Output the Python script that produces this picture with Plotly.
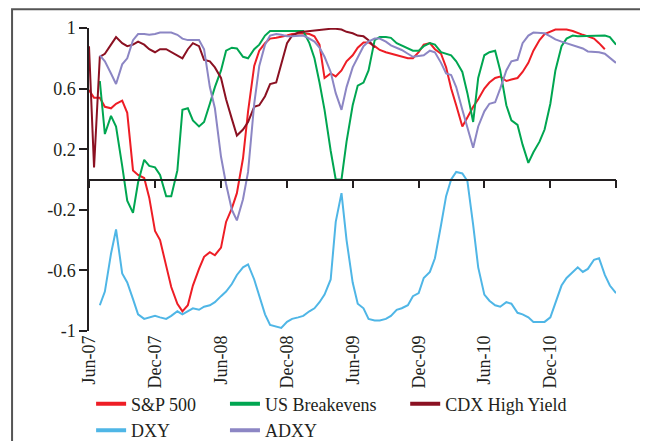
import plotly.graph_objects as go
import pandas as pd

# semi-monthly observations, Jun-07 .. Jun-11
dates = pd.date_range("2007-06-01", periods=97, freq="SMS")

sp500 = [0.59, 0.54, 0.54, 0.48, 0.47, 0.50, 0.52, 0.44, 0.06, 0.03,
         0.01, -0.12, -0.34, -0.40, -0.57, -0.71, -0.82, -0.87, -0.83, -0.70,
         -0.59, -0.51, -0.48, -0.50, -0.45, -0.28, -0.19, -0.09, 0.14, 0.45,
         0.75, 0.85, 0.90, 0.93, 0.935, 0.94, 0.95, 0.96, 0.965, 0.965,
         0.96, 0.945, 0.89, 0.67, 0.70, 0.68, 0.72, 0.78, 0.82, 0.87,
         0.905, 0.905, 0.88, 0.855, 0.84, 0.83, 0.82, 0.81, 0.80, 0.80,
         0.84, 0.89, 0.90, 0.86, 0.83, 0.74, 0.60, 0.49, 0.35, 0.41,
         0.48, 0.53, 0.60, 0.64, 0.67, 0.68, 0.65, 0.66, 0.67, 0.71,
         0.77, 0.85, 0.92, 0.96, 0.975, 0.99, 0.99, 0.99, 0.98, 0.965,
         0.955, 0.945, 0.93, 0.90, 0.86, None, None]

breakevens = [None, None, 0.65, 0.30, 0.42, 0.35, 0.09, -0.14, -0.22, -0.02,
              0.13, 0.09, 0.08, 0.03, -0.11, -0.11, 0.06, 0.46, 0.47, 0.39,
              0.35, 0.38, 0.50, 0.61, 0.72, 0.85, 0.87, 0.865, 0.81, 0.80,
              0.86, 0.89, 0.95, 0.98, 0.98, 0.98, 0.98, 0.98, 0.98, 0.98,
              0.90, 0.80, 0.64, 0.46, 0.19, 0.0, 0.0, 0.25, 0.49, 0.62,
              0.64, 0.72, 0.92, 0.94, 0.94, 0.935, 0.90, 0.885, 0.87, 0.85,
              0.85, 0.88, 0.90, 0.89, 0.84, 0.83, 0.82, 0.78, 0.71, 0.57,
              0.38, 0.67, 0.82, 0.84, 0.85, 0.72, 0.49, 0.39, 0.36, 0.23,
              0.11, 0.18, 0.25, 0.33, 0.50, 0.72, 0.88, 0.93, 0.95, 0.945,
              0.945, 0.945, 0.945, 0.95, 0.95, 0.94, 0.89]

cdx_hy = [0.88, 0.08, 0.81, 0.83, 0.89, 0.94, 0.90, 0.88, 0.89, 0.91,
          0.89, 0.86, 0.84, 0.86, 0.86, 0.84, 0.82, 0.80, 0.86, 0.90,
          0.88, 0.79, 0.78, 0.74, 0.67, 0.53, 0.40, 0.29, 0.33, 0.38,
          0.48, 0.49, 0.55, 0.63, 0.64, 0.77, 0.90, 0.95, 0.97, 0.975,
          0.98, 0.985, 0.99, 0.99, 0.995, 0.995, 0.99, 0.975, 0.965, 0.95,
          0.945, 0.92, 0.87] + [None] * 44

dxy = [None, None, -0.83, -0.74, -0.49, -0.33, -0.62, -0.68, -0.79, -0.89,
       -0.92, -0.91, -0.90, -0.91, -0.92, -0.90, -0.87, -0.89, -0.87, -0.85,
       -0.86, -0.84, -0.83, -0.81, -0.77, -0.74, -0.69, -0.63, -0.58, -0.56,
       -0.66, -0.77, -0.89, -0.96, -0.97, -0.98, -0.94, -0.92, -0.91, -0.90,
       -0.87, -0.85, -0.81, -0.76, -0.66, -0.28, -0.09, -0.40, -0.68, -0.82,
       -0.85, -0.92, -0.93, -0.93, -0.92, -0.90, -0.86, -0.85, -0.83, -0.77,
       -0.75, -0.65, -0.61, -0.52, -0.30, -0.11, 0.0, 0.05, 0.04, -0.01,
       -0.30, -0.58, -0.76, -0.80, -0.83, -0.84, -0.81, -0.82, -0.88, -0.89,
       -0.91, -0.94, -0.94, -0.94, -0.91, -0.81, -0.70, -0.65, -0.61, -0.58,
       -0.61, -0.59, -0.53, -0.52, -0.63, -0.70, -0.75]

adxy = [None, None, 0.82, 0.78, 0.70, 0.63, 0.76, 0.80, 0.92, 0.96,
        0.96, 0.955, 0.96, 0.97, 0.97, 0.97, 0.955, 0.93, 0.92, 0.92,
        0.92, 0.86, 0.61, 0.47, 0.15, -0.03, -0.20, -0.27, -0.13, 0.05,
        0.50, 0.75, 0.89, 0.95, 0.96, 0.955, 0.945, 0.945, 0.95, 0.95,
        0.93, 0.91, 0.87, 0.81, 0.71, 0.57, 0.46, 0.61, 0.74, 0.81,
        0.88, 0.91, 0.93, 0.93, 0.91, 0.885, 0.87, 0.855, 0.83, 0.81,
        0.815, 0.82, 0.85, 0.84, 0.77, 0.70, 0.69, 0.61, 0.46, 0.35,
        0.21, 0.35, 0.45, 0.50, 0.51, 0.60, 0.72, 0.78, 0.79, 0.90,
        0.95, 0.97, 0.97, 0.965, 0.945, 0.925, 0.91, 0.90, 0.89, 0.875,
        0.865, 0.845, 0.84, 0.84, 0.83, 0.80, 0.77]

tick_dates = ["2007-06-01", "2007-12-01", "2008-06-01", "2008-12-01", "2009-06-01",
              "2009-12-01", "2010-06-01", "2010-12-01", "2011-06-01"]
tick_labels = ["Jun-07", "Dec-07", "Jun-08", "Dec-08", "Jun-09",
               "Dec-09", "Jun-10", "Dec-10", ""]
y_ticks = [1, 0.6, 0.2, -0.2, -0.6, -1]
y_labels = ["1", "0.6", "0.2", "-0.2", "-0.6", "-1"]

FONT = "Liberation Serif"
INK = "#231f20"
FS = 18

series = [
    ("S&P 500", sp500, "#ee1d25", "legend", "x"),
    ("US Breakevens", breakevens, "#00a651", "legend2", "x"),
    ("CDX High Yield", cdx_hy, "#8b1122", "legend3", "x"),
    ("DXY", dxy, "#4fb6e6", "legend", "x2"),
    ("ADXY", adxy, "#8c86c4", "legend2", "x"),
]

fig = go.Figure()

for name, vals, color, leg, xa in series:
    fig.add_trace(go.Scatter(
        x=dates, y=vals, name=name, mode="lines", xaxis=xa,
        line=dict(color=color, width=2), showlegend=False,
        connectgaps=False,
    ))

# legend swatches (thicker than the data lines)
for name, vals, color, leg, xa in series:
    fig.add_trace(go.Scatter(
        x=[None], y=[None], name=name, mode="lines",
        line=dict(color=color, width=4), legend=leg,
    ))

leg_common = dict(orientation="v", yanchor="top", y=-0.18, xanchor="left",
                  font=dict(family=FONT, size=FS, color=INK),
                  bgcolor="rgba(0,0,0,0)", traceorder="normal", tracegroupgap=0)

# page body adds an 8px margin, so the figure is 8px smaller each way
fig.update_layout(
    width=640, height=433,
    paper_bgcolor="white", plot_bgcolor="white",
    margin=dict(l=81, r=32, t=20, b=110, autoexpand=False),
    font=dict(family=FONT, size=FS, color=INK),
    xaxis=dict(
        range=["2007-06-01", "2011-06-01"],
        tickvals=tick_dates, ticktext=tick_labels, tickangle=-90,
        showline=False, ticks="", showgrid=False, zeroline=False,
        tickfont=dict(family=FONT, size=FS, color=INK),
    ),
    xaxis2=dict(
        overlaying="x", matches="x", anchor="free", position=0.5,
        tickvals=tick_dates, showticklabels=False,
        showline=True, linecolor=INK, linewidth=1.5,
        ticks="outside", ticklen=8, tickcolor=INK, tickwidth=1.5,
        showgrid=False, zeroline=False,
    ),
    yaxis=dict(
        range=[-1, 1], tickvals=y_ticks, ticktext=y_labels,
        showline=True, linecolor=INK, linewidth=1.5,
        ticks="outside", ticklen=8, tickcolor=INK, tickwidth=1.5,
        showgrid=False, zeroline=False,
        tickfont=dict(family=FONT, size=FS, color=INK),
    ),
    legend=dict(x=0.004, **leg_common),
    legend2=dict(x=0.258, **leg_common),
    legend3=dict(x=0.600, **leg_common),
    shapes=[dict(type="rect", xref="paper", yref="paper",
                 x0=-0.146, x1=1.055, y0=-0.40, y1=1.062,
                 line=dict(color="#555555", width=2), layer="below")],
)

fig.write_html("out.html")
